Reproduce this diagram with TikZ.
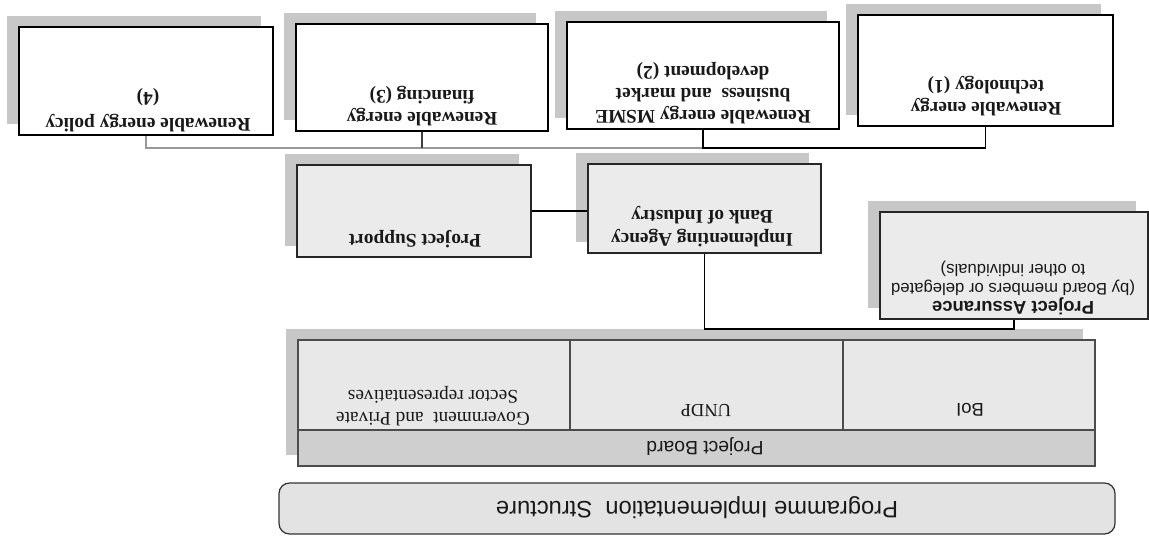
\documentclass[tikz,border=0pt]{standalone}
\usepackage{fontspec}
\setmainfont{Liberation Serif}
\setsansfont{Liberation Sans}
\usetikzlibrary{shadows}

\tikzset{
  boxshadow/.style={drop shadow={shadow xshift=-0.24cm,shadow yshift=0.22cm,fill=black!22,opacity=1}},
  compbox/.style 2 args={draw=black,line width=0.7pt,fill=white,boxshadow,
    minimum width=#1*0.02cm,minimum height=#2*0.02cm,inner sep=0pt},
  midbox/.style 2 args={draw=black!85,line width=0.7pt,fill=black!8,boxshadow,
    minimum width=#1*0.02cm,minimum height=#2*0.02cm,inner sep=0pt},
  cellbox/.style 2 args={draw=black!70,line width=0.6pt,fill=black!9,
    minimum width=#1*0.02cm,minimum height=#2*0.02cm,inner sep=0pt},
  lbl/.style={rotate=180,align=center,inner sep=0pt,text=black!90},
  link/.style={line width=0.7pt}
}

\begin{document}
\begin{tikzpicture}[x=0.02cm,y=-0.02cm]
\useasboundingbox (0,0) rectangle (1149,537);

% programme components
\node[compbox={254}{108}] (ra) at (146,81) {};
\node[compbox={252}{107}] (rb) at (422,77.5) {};
\node[compbox={272}{107}] (rc) at (703,75.5) {};
\node[compbox={255}{111}] (rd) at (985.5,70.5) {};

\node[lbl,font=\bfseries\fontsize{11}{14.5}\selectfont] at (148,110) {Renewable energy policy\\(4)};
\node[lbl,font=\bfseries\fontsize{11}{12.5}\selectfont] at (422,106) {Renewable energy\\financing (3)};
\node[lbl,font=\bfseries\fontsize{11}{12.5}\selectfont] at (703,93.5) {Renewable energy MSME\\business~~and market\\development (2)};
\node[lbl,font=\bfseries\fontsize{11}{12.5}\selectfont] at (986,96.5) {Renewable energy\\technology (1)};

% bus to the components
\coordinate (bus) at (0,148);
\draw[link,black!40] (ra.south) |- (rc.south |- bus);
\draw[link,black!75] (rb.south) -- (rb.south |- bus);
\draw[link] (rc.south) |- (rd.south |- bus) -- (rd.south);

% agency, support, assurance
\node[midbox={234}{92}] (ps) at (414,211) {};
\node[midbox={233}{89}] (ia) at (704.5,208.5) {};
\node[midbox={268}{107}] (pa) at (1014,265.5) {};

\node[lbl,font=\bfseries\fontsize{11}{13}\selectfont] at (415,239) {Project Support};
\node[lbl,font=\bfseries\fontsize{11}{13}\selectfont] at (702,227) {Implementing Agency\\Bank of Industry};
\node[lbl,font=\sffamily\fontsize{9.5}{10.5}\selectfont] at (1013,288)
  {{\bfseries\fontsize{10.5}{11}\selectfont Project Assurance}\\(by Board members or delegated\\to other individuals)};

\draw[link] (ps.east) -- (ps.east -| ia.west);

% project board
\node[cellbox={797}{126},boxshadow] (board) at (696.5,403) {};
\node[cellbox={272}{90}] (gov) at (434,385) {};
\node[cellbox={273}{90}] (undp) at (706.5,385) {};
\node[cellbox={252}{90}] (boi) at (969,385) {};
\node[cellbox={797}{36},fill=black!19] (pbar) at (696.5,448) {};

\node[lbl,font=\fontsize{11}{12.5}\selectfont] at (433,406) {Government~~and Private\\Sector representatives};
\node[lbl,font=\fontsize{10.5}{12}\selectfont] at (706,410) {UNDP};
\node[lbl,font=\sffamily\fontsize{10.5}{12}\selectfont] at (970,410) {BoI};
\node[lbl,font=\sffamily\fontsize{11}{12}\selectfont] at (705,446) {Project Board};

\coordinate (jn) at (0,329);
\draw[link] (ia.south) |- (pa.south |- jn) -- (pa.south);

% title
\node[draw=black!80,line width=0.7pt,fill=black!11,rounded corners=6pt,
  minimum width=836*0.02cm,minimum height=51*0.02cm,inner sep=0pt] (prog) at (697,508.5) {};
\node[lbl,font=\sffamily\fontsize{13.5}{15}\selectfont] at (697,508) {Programme Implementation~~Structure};
\end{tikzpicture}
\end{document}
